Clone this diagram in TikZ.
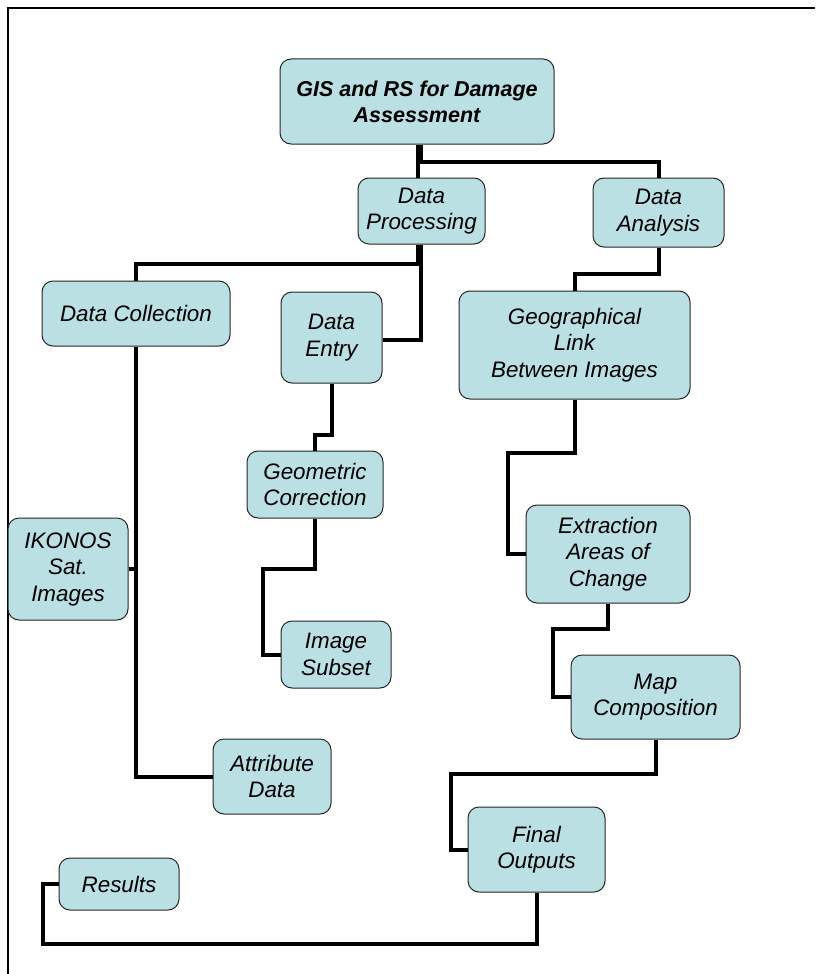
\documentclass[tikz,border=0pt]{standalone}
\usepackage{fontspec}
\setmainfont{Liberation Sans}
\definecolor{boxfill}{RGB}{187,224,227}
\begin{document}
\begin{tikzpicture}[x=1pt,y=-1pt,
  box/.style={draw=black!85, line width=1pt, fill=boxfill, rounded corners=11pt,
    inner sep=0pt, align=center, font=\fontsize{22.4}{26.5}\selectfont\itshape},
  conn/.style={line width=4pt, black, line join=miter}]
\useasboundingbox (0,0) rectangle (815,974);
\draw[line width=1.2pt] (8,974) -- (8,8) -- (815,8);

\node[box, minimum width=274pt, minimum height=85pt, font=\fontsize{21.5}{26}\selectfont\bfseries\itshape] (gis) at (417,101.5) {GIS and RS for Damage\\Assessment};
\node[box, minimum width=127pt, minimum height=66pt] (dp) at (421.5,211) {Data\\Processing};
\node[box, minimum width=131pt, minimum height=69pt] (da) at (658.5,212.5) {Data\\Analysis};
\node[box, minimum width=188pt, minimum height=65pt] (dc) at (136,313.5) {Data Collection};
\node[box, minimum width=101pt, minimum height=91pt] (de) at (331.5,337.5) {Data\\Entry};
\node[box, minimum width=231pt, minimum height=108pt] (geo) at (574.5,345) {Geographical\\Link\\Between Images};
\node[box, minimum width=136pt, minimum height=67pt] (gc) at (315,484.5) {Geometric\\Correction};
\node[box, minimum width=110pt, minimum height=67pt] (is) at (336,654.5) {Image\\Subset};
\node[box, minimum width=120pt, minimum height=102pt] (ik) at (68,569) {IKONOS\\Sat.\\Images};
\node[box, minimum width=164pt, minimum height=98pt] (ex) at (608,554) {Extraction\\Areas of\\Change};
\node[box, minimum width=169pt, minimum height=84pt] (mc) at (655.5,697) {Map\\Composition};
\node[box, minimum width=137pt, minimum height=85pt] (fo) at (536.5,849.5) {Final\\Outputs};
\node[box, minimum width=118pt, minimum height=75pt] (ad) at (272,776.5) {Attribute\\Data};
\node[box, minimum width=120pt, minimum height=52pt] (rs) at (119,884) {Results};

\draw[conn] ([xshift=1pt]gis.south) -- ([xshift=-3.5pt]dp.north);
\draw[conn] ([xshift=4pt]gis.south) -- ++(0,17) -| (da.north);
\draw[conn] ([xshift=-3.5pt]dp.south) -- ++(0,19) -| (dc.north);
\draw[conn] ([xshift=-0.5pt]dp.south) |- ([yshift=-2.5pt]de.east);
\draw[conn] (dc.south) |- (ad.west);
\draw[conn] (ik.east) -- (ik.east -| dc.south);
\draw[conn] (de.south) -- ++(0,51) -| (gc.north);
\draw[conn] (gc.south) -- ++(0,50) -| ([xshift=-18pt]is.west) -- (is.west);
\draw[conn] (da.south) -- ++(0,26) -| (geo.north);
\draw[conn] (geo.south) -- ++(0,53) -| ([xshift=-18pt]ex.west) -- (ex.west);
\draw[conn] (ex.south) -- ++(0,25) -| ([xshift=-18pt]mc.west) -- (mc.west);
\draw[conn] (mc.south) -- ++(0,34) -| ([xshift=-17pt]fo.west) -- (fo.west);
\draw[conn] (fo.south) -- ++(0,51) -| ([xshift=-16pt]rs.west) -- (rs.west);
\end{tikzpicture}
\end{document}
